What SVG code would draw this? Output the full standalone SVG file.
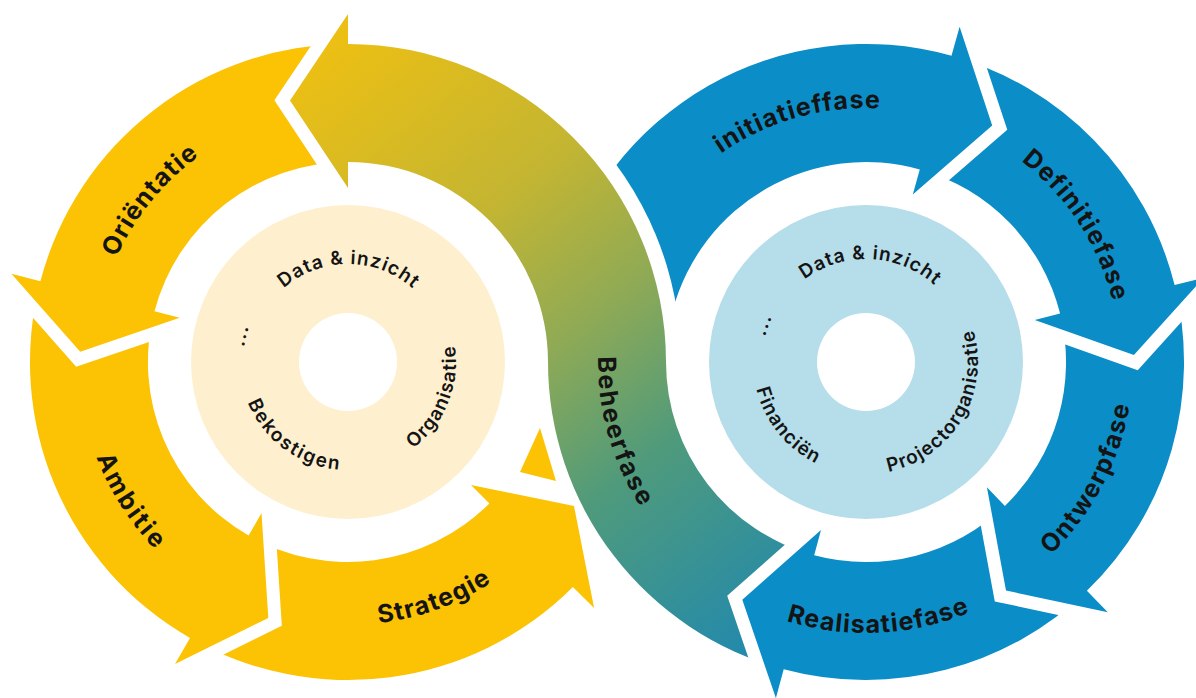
<svg xmlns="http://www.w3.org/2000/svg" width="1196" height="698" viewBox="0 0 1196 698">
<defs>
<style>
.y{fill:#FCC204}
.b{fill:#0B8DC7}
.lbl{font-family:Inter,"Noto Sans","Liberation Sans",sans-serif;font-weight:700;font-size:25px;fill:#141414;letter-spacing:1.2px}
.in{font-family:Inter,"Noto Sans","Liberation Sans",sans-serif;font-weight:600;font-size:19px;fill:#141414;letter-spacing:1.1px}
.cut{fill:#000;stroke:#000;stroke-width:26;stroke-linejoin:miter;stroke-miterlimit:10}
</style>
<linearGradient id="gg" gradientUnits="userSpaceOnUse" x1="320" y1="60" x2="780" y2="640">
<stop offset="0" stop-color="#EBBF14"/>
<stop offset="0.3" stop-color="#C3B532"/>
<stop offset="0.5" stop-color="#8FAA55"/>
<stop offset="0.7" stop-color="#4E9A7C"/>
<stop offset="1" stop-color="#2189AE"/>
</linearGradient>
<mask id="m_init" maskUnits="userSpaceOnUse" x="0" y="0" width="1196" height="698"><rect width="1196" height="698" fill="#fff"/><circle cx="348" cy="362" r="333" fill="#000"/></mask>
<mask id="m_def" maskUnits="userSpaceOnUse" x="0" y="0" width="1196" height="698"><rect width="1196" height="698" fill="#fff"/><polygon class="cut" points="959.6,26.8 992.2,125.6 912.8,194.4"/></mask>
<mask id="m_ont" maskUnits="userSpaceOnUse" x="0" y="0" width="1196" height="698"><rect width="1196" height="698" fill="#fff"/><polygon class="cut" points="1203.7,277.8 1133.9,355 1034.8,319.9"/></mask>
<mask id="m_real" maskUnits="userSpaceOnUse" x="0" y="0" width="1196" height="698"><rect width="1196" height="698" fill="#fff"/><polygon class="cut" points="1107.8,612.3 1006,590.5 986.9,487.2"/></mask>
<mask id="m_green" maskUnits="userSpaceOnUse" x="0" y="0" width="1196" height="698"><rect width="1196" height="698" fill="#fff"/><polygon class="cut" points="775.9,698.1 742.3,599.7 821,530.1"/></mask>
<mask id="m_ori" maskUnits="userSpaceOnUse" x="0" y="0" width="1196" height="698"><rect width="1196" height="698" fill="#fff"/><polygon class="cut" points="348,14 290,100.4 348,188"/></mask>
<mask id="m_amb" maskUnits="userSpaceOnUse" x="0" y="0" width="1196" height="698"><rect width="1196" height="698" fill="#fff"/><polygon class="cut" points="11.4,273.7 80.2,351.7 179.7,317.8"/></mask>
<mask id="m_str" maskUnits="userSpaceOnUse" x="0" y="0" width="1196" height="698"><rect width="1196" height="698" fill="#fff"/><polygon class="cut" points="175,664 268.3,617.9 261.5,513"/></mask>
<path id="t_ori" d="M 110.4 451.8 A 254 254 0 0 1 389 111.3"/>
<path id="t_amb" d="M 91.2 282 A 269 269 0 0 0 313.8 628.8"/>
<path id="t_str" d="M 216.5 589.8 A 263 263 0 0 0 595.1 451.9"/>
<path id="t_ini" d="M 619.9 299.3 A 254 254 0 0 1 1043.4 180.2"/>
<path id="t_def" d="M 897 109.9 A 254 254 0 0 1 1108.9 436.3"/>
<path id="t_ont" d="M 922.9 622.9 A 267 267 0 0 0 1113 260.7"/>
<path id="t_rea" d="M 667.2 546.1 A 271 271 0 0 0 1081.9 525.8"/>
<path id="t_beh" d="M 643.8 212.1 A 268 268 0 0 0 757 606.8"/>
<path id="t_ld" d="M 263.6 312.3 A 98 98 0 0 1 433.3 313.7"/>
<path id="t_ldots" d="M 247.1 390.9 A 105 105 0 0 1 272.5 289.1"/>
<path id="t_lbek" d="M 240.6 350.7 A 108 108 0 0 0 391.9 460.7"/>
<path id="t_lorg" d="M 363 469 A 108 108 0 0 0 433.1 295.5"/>
<path id="t_rd" d="M 779.3 306.4 A 103 103 0 0 1 957.5 314.8"/>
<path id="t_rdots" d="M 763.6 380.1 A 104 104 0 0 1 799.1 282.3"/>
<path id="t_rfin" d="M 760.5 321.5 A 113 113 0 0 0 883.7 473.6"/>
<path id="t_rpro" d="M 845.4 472.1 A 112 112 0 0 0 952.5 290.9"/>
</defs>
<rect width="1196" height="698" fill="#fff"/>

<g id="left-core">
<circle cx="348" cy="362" r="157" fill="#FEF0CF"/>
<circle cx="348" cy="362" r="49" fill="#fff"/>
<text class="in" text-anchor="middle"><textPath href="#t_ld" startOffset="50%">Data &amp; inzicht</textPath></text>
<text class="in" text-anchor="middle"><textPath href="#t_ldots" startOffset="50%">...</textPath></text>
<text class="in" text-anchor="middle" style="letter-spacing:1.8px"><textPath href="#t_lbek" startOffset="50%">Bekostigen</textPath></text>
<text class="in" text-anchor="middle"><textPath href="#t_lorg" startOffset="50%">Organisatie</textPath></text>
</g>

<g id="right-core">
<circle cx="866" cy="362" r="157" fill="#B5DDEA"/>
<circle cx="866" cy="362" r="49" fill="#fff"/>
<text class="in" text-anchor="middle"><textPath href="#t_rd" startOffset="50%">Data &amp; inzicht</textPath></text>
<text class="in" text-anchor="middle"><textPath href="#t_rdots" startOffset="50%">...</textPath></text>
<text class="in" text-anchor="middle"><textPath href="#t_rfin" startOffset="50%">Financiën</textPath></text>
<text class="in" text-anchor="middle"><textPath href="#t_rpro" startOffset="50%">Projectorganisatie</textPath></text>
</g>

<g id="initiatieffase">
<path class="b" mask="url(#m_init)" d="M 558.8 279.7 A 318 318 0 0 1 951.5 55.7 L 959.6 26.8 L 992.2 125.6 L 912.8 194.4 L 919.8 169.4 A 200 200 0 0 0 672.8 310.2 Z"/>
<text class="lbl" text-anchor="middle"><textPath href="#t_ini" startOffset="50%">initiatieffase</textPath></text>
</g>

<g id="definitiefase">
<path class="b" mask="url(#m_def)" d="M 951.5 55.7 A 318 318 0 0 1 1174.6 285.1 L 1203.7 277.8 L 1133.9 355 L 1034.8 319.9 L 1060.1 313.6 A 200 200 0 0 0 919.8 169.4 Z"/>
<text class="lbl" text-anchor="middle"><textPath href="#t_def" startOffset="50%">Definitiefase</textPath></text>
</g>

<g id="ontwerpfase">
<path class="b" mask="url(#m_ont)" d="M 1174.6 285.1 A 318 318 0 0 1 1086.9 590.7 L 1107.8 612.3 L 1006 590.5 L 986.9 487.2 L 1004.9 505.9 A 200 200 0 0 0 1060.1 313.6 Z"/>
<text class="lbl" text-anchor="middle"><textPath href="#t_ont" startOffset="50%">Ontwerpfase</textPath></text>
</g>

<g id="realisatiefase">
<path class="b" mask="url(#m_real)" d="M 1086.9 590.7 A 318 318 0 0 1 783.7 669.2 L 775.9 698.1 L 742.3 599.7 L 821 530.1 L 814.2 555.2 A 200 200 0 0 0 1004.9 505.9 Z"/>
<text class="lbl" text-anchor="middle"><textPath href="#t_rea" startOffset="50%">Realisatiefase</textPath></text>
</g>

<g id="beheerfase">
<path fill="url(#gg)" mask="url(#m_green)" d="M 783.7 669.2 A 318 318 0 0 1 548 362 A 200 200 0 0 0 348 162 L 348 188 L 290 100.4 L 348 14 L 348 44 A 318 318 0 0 1 666 362 A 200 200 0 0 0 814.2 555.2 Z"/>
<text class="lbl" text-anchor="middle" style="letter-spacing:2px"><textPath href="#t_beh" startOffset="50%">Beheerfase</textPath></text>
</g>

<g id="orientatie">
<path class="y" mask="url(#m_ori)" d="M 348 44 A 318 318 0 0 0 40.4 281.3 L 11.4 273.7 L 80.2 351.7 L 179.7 317.8 L 154.5 311.2 A 200 200 0 0 1 348 162 Z"/>
<text class="lbl" text-anchor="middle"><textPath href="#t_ori" startOffset="50%">Oriëntatie</textPath></text>
</g>

<g id="ambitie">
<path class="y" mask="url(#m_amb)" d="M 40.4 281.3 A 318 318 0 0 0 190 638 L 175 664 L 268.3 617.9 L 261.5 513 L 248.6 535.6 A 200 200 0 0 1 154.5 311.2 Z"/>
<text class="lbl" text-anchor="middle" style="letter-spacing:2.5px"><textPath href="#t_amb" startOffset="50%">Ambitie</textPath></text>
</g>

<g id="strategie">
<path class="y" mask="url(#m_str)" d="M 190 638 A 318 318 0 0 0 572.9 586.9 L 594.1 608.1 L 574 506 L 471 485 L 489.4 503.4 A 200 200 0 0 1 248.6 535.6 Z"/>
<polygon class="y" points="520,472 540,428 556,481"/>
<text class="lbl" text-anchor="middle"><textPath href="#t_str" startOffset="50%">Strategie</textPath></text>
</g>
</svg>
